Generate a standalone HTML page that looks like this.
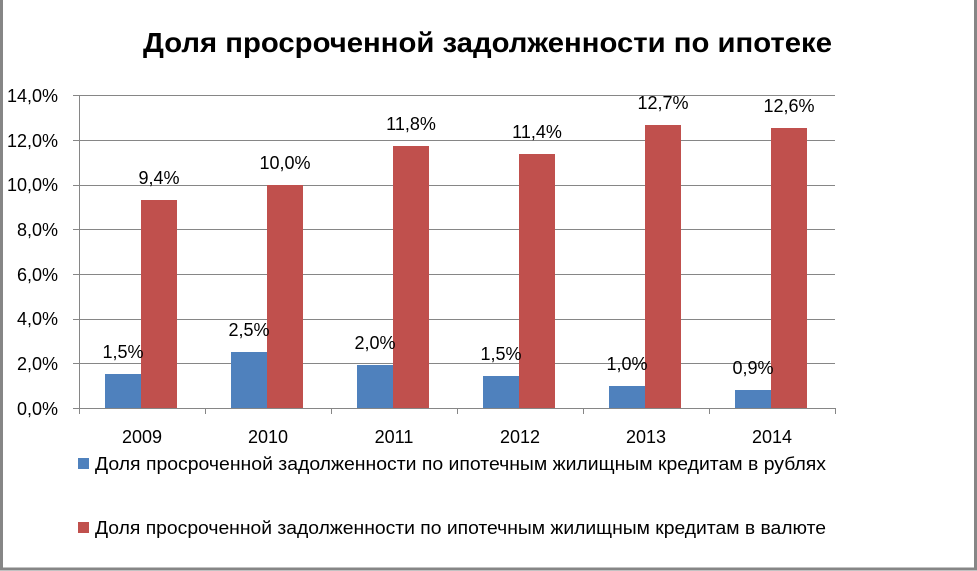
<!DOCTYPE html>
<html><head><meta charset="utf-8"><style>
html,body{margin:0;padding:0;background:#fff}
svg{display:block}
text{font-family:"Liberation Sans","DejaVu Sans",sans-serif;fill:#000}
</style></head><body>
<svg width="977" height="571" viewBox="0 0 977 571" xmlns="http://www.w3.org/2000/svg">
<rect x="0" y="0" width="977" height="571" fill="#fff"/>
<rect x="1.5" y="-2" width="974" height="571" fill="none" stroke="#868686" stroke-width="3"/>
<text x="143" y="52" font-size="28" font-weight="bold" textLength="689" lengthAdjust="spacingAndGlyphs">Доля просроченной задолженности по ипотеке</text>
<g stroke="#868686" stroke-width="1">
<line x1="73" y1="95.5" x2="835" y2="95.5"/>
<line x1="73" y1="140.5" x2="835" y2="140.5"/>
<line x1="73" y1="185.5" x2="835" y2="185.5"/>
<line x1="73" y1="229.5" x2="835" y2="229.5"/>
<line x1="73" y1="274.5" x2="835" y2="274.5"/>
<line x1="73" y1="319.5" x2="835" y2="319.5"/>
<line x1="73" y1="363.5" x2="835" y2="363.5"/>
<line x1="73" y1="408.5" x2="835" y2="408.5"/>
<line x1="79.5" y1="95" x2="79.5" y2="414"/>
<line x1="205.5" y1="408" x2="205.5" y2="414"/>
<line x1="331.5" y1="408" x2="331.5" y2="414"/>
<line x1="457.5" y1="408" x2="457.5" y2="414"/>
<line x1="583.5" y1="408" x2="583.5" y2="414"/>
<line x1="709.5" y1="408" x2="709.5" y2="414"/>
<line x1="835.5" y1="408" x2="835.5" y2="414"/>
</g>
<g font-size="18" text-anchor="end">
<text x="58" y="102">14,0%</text><text x="58" y="147">12,0%</text><text x="58" y="191">10,0%</text>
<text x="58" y="236">8,0%</text><text x="58" y="281">6,0%</text><text x="58" y="325">4,0%</text>
<text x="58" y="370">2,0%</text><text x="58" y="415">0,0%</text>
</g>
<g fill="#4f81bd">
<rect x="105" y="374" width="36" height="34"/>
<rect x="231" y="352" width="36" height="56"/>
<rect x="357" y="365" width="36" height="43"/>
<rect x="483" y="376" width="36" height="32"/>
<rect x="609" y="386" width="36" height="22"/>
<rect x="735" y="390" width="36" height="18"/>
</g>
<g fill="#c0504d">
<rect x="141" y="200" width="36" height="208"/>
<rect x="267" y="185" width="36" height="223"/>
<rect x="393" y="146" width="36" height="262"/>
<rect x="519" y="154" width="36" height="254"/>
<rect x="645" y="125" width="36" height="283"/>
<rect x="771" y="128" width="36" height="280"/>
</g>
<g font-size="18" text-anchor="middle">
<text x="123" y="358">1,5%</text><text x="249" y="336">2,5%</text><text x="375" y="349">2,0%</text>
<text x="501" y="360">1,5%</text><text x="627" y="370">1,0%</text><text x="753" y="374">0,9%</text>
<text x="159" y="184">9,4%</text><text x="285" y="169">10,0%</text><text x="411" y="130">11,8%</text>
<text x="537" y="138">11,4%</text><text x="663" y="109">12,7%</text><text x="789" y="112">12,6%</text>
<text x="142" y="443">2009</text><text x="268" y="443">2010</text><text x="394" y="443">2011</text>
<text x="520" y="443">2012</text><text x="646" y="443">2013</text><text x="772" y="443">2014</text>
</g>
<rect x="78" y="458" width="11" height="11" fill="#4f81bd"/>
<rect x="78" y="522" width="11" height="11" fill="#c0504d"/>
<text x="95" y="470" font-size="18" textLength="731" lengthAdjust="spacingAndGlyphs">Доля просроченной задолженности по ипотечным жилищным кредитам в рублях</text>
<text x="95" y="534" font-size="18" textLength="731" lengthAdjust="spacingAndGlyphs">Доля просроченной задолженности по ипотечным жилищным кредитам в валюте</text>
</svg>
</body></html>
